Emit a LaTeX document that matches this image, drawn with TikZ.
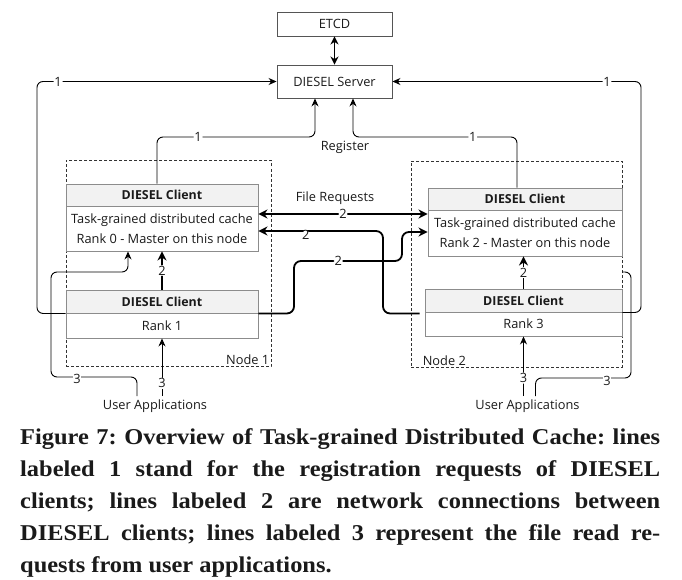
\documentclass[tikz,border=0pt]{standalone}
\usepackage{fontspec}
\setmainfont{Open Sans}
\newfontfamily\capfont[FakeStretch=1.08]{Liberation Serif}
\usetikzlibrary{arrows.meta,calc}
\definecolor{txt}{HTML}{1A1A1A}
\definecolor{hdrfill}{HTML}{F2F2F2}
\definecolor{cliborder}{HTML}{8C8C8C}
\definecolor{srvborder}{HTML}{555555}
\tikzset{
  every node/.style={text=txt,font=\fontsize{12.8}{15}\selectfont},
  srvbox/.style={draw=srvborder,line width=0.9pt,minimum width=115pt,inner sep=0pt},
  hdr/.style={draw=cliborder,line width=0.9pt,fill=hdrfill,inner sep=0pt,font=\fontsize{12.4}{15}\selectfont\bfseries},
  bod/.style={draw=cliborder,line width=0.9pt,fill=white,inner sep=0pt,align=center,font=\fontsize{12.8}{20}\selectfont},
  nodebox/.style={draw=black!80,dashed,line width=0.8pt,dash pattern=on 3pt off 2pt},
  thin/.style={draw=black,line width=0.9pt,rounded corners=6pt},
  thick/.style={draw=black,line width=1.8pt,rounded corners=7pt},
  tip/.style={-{Stealth[length=8pt,width=7pt]}},
  ttip/.style={-{Stealth[length=9pt,width=9pt]}},
  lbl/.style={fill=white,inner sep=0.8pt,font=\fontsize{12.8}{15}\selectfont},
  capline/.style={anchor=base west,inner sep=0pt,font=\capfont\bfseries\fontsize{22.6}{32}\selectfont}
}
\begin{document}
\frenchspacing
\begin{tikzpicture}[x=1pt,y=-1pt]
\useasboundingbox (0,0) rectangle (682,580);
% dashed node boxes
\node[nodebox,minimum width=205pt,minimum height=206pt,inner sep=0pt] (n1) at (168.5,263.5) {};
\node[nodebox,minimum width=211pt,minimum height=206pt,inner sep=0pt] (n2) at (516.5,264) {};
\node[anchor=south east,inner sep=2pt] (n1lbl) at (n1.south east) {Node 1};
\node[anchor=south west,inner sep=2pt] (n2lbl) at ([xshift=10pt]n2.south west) {Node 2};
% server & etcd
\node[srvbox,minimum height=24pt] (etcd) at (334.5,24) {ETCD};
\node[srvbox,minimum height=33pt] (server) at (334.5,81.5) {DIESEL Server};
% clients
\node[hdr,minimum width=192pt,minimum height=22pt] (c0h) at (162,195) {DIESEL Client};
\node[bod,minimum width=192pt,minimum height=45pt] (c0b) at (162,228.5) {Task-grained distributed cache\\Rank 0 - Master on this node};
\node[hdr,minimum width=192pt,minimum height=23pt] (c1h) at (162,301.5) {DIESEL Client};
\node[bod,minimum width=192pt,minimum height=25pt] (c1b) at (162,325.5) {Rank 1};
\node[hdr,minimum width=194pt,minimum height=22pt] (c2h) at (525,199) {DIESEL Client};
\node[bod,minimum width=194pt,minimum height=46pt] (c2b) at (525,233) {Task-grained distributed cache\\Rank 2 - Master on this node};
\node[hdr,minimum width=197pt,minimum height=23pt] (c3h) at (523.5,300.5) {DIESEL Client};
\node[bod,minimum width=197pt,minimum height=24pt] (c3b) at (523.5,324) {Rank 3};
% texts
\node (reg) at (345,147) {Register};
\node (freq) at (335,198) {File Requests};
\node (ua1) at (155,406) {User Applications};
\node (ua2) at (527.5,406) {User Applications};
% etcd <-> server
\draw[draw=black,line width=1.8pt,{Stealth[length=8pt,width=8pt]}-{Stealth[length=8pt,width=8pt]}] (etcd.south) -- (server.north);
% lines labelled 1
\draw[thin,tip] (c1h.south west) -| (37,81.5) -- node[lbl,pos=0.088]{1} (server.west);
\draw[thin,tip] (c3h.south east) -| (641,81.5) -- node[lbl,pos=0.137]{1} (server.east);
\draw[thin,tip] ([xshift=-5pt]c0h.north) |- node[lbl,pos=0.63]{1} ([xshift=-19.5pt]server.south |- 0,137) -- ([xshift=-19.5pt]server.south);
\draw[thin,tip] ([xshift=-8pt]c2h.north) |- node[lbl,pos=0.635]{1} ([xshift=18.5pt]server.south |- 0,137) -- ([xshift=18.5pt]server.south);
% lines labelled 2
\draw[thick,{Stealth[length=9pt,width=9pt]}-{Stealth[length=9pt,width=9pt]}] ([yshift=14.5pt]c0b.east) -- node[lbl]{2} ([yshift=19pt]c2b.west);
\draw[thick,ttip] ([xshift=-5pt,yshift=-1pt]c3h.south west) -| (383,231) -- node[lbl,pos=0.62,yshift=-4pt]{2} ([yshift=-2.5pt]c0b.east);
\draw[thick,ttip] (c1h.south east) -| (294,261) -- node[lbl,pos=0.41]{2} (402,261) |- ([yshift=1pt]c2b.west);
\draw[thick,ttip] (c1h.north) -- node[lbl]{2} (c0b.south);
\draw[thick,ttip] (c3h.north) -- node[lbl]{2} (c3h.north |- c2b.south);
% lines labelled 3
\draw[thin,tip] (c1b.south |- ua1.north) -- node[lbl,pos=0.22]{3} (c1b.south);
\draw[thin,tip] ([xshift=-18pt]ua1.north) |- (51,377) |- (128,272) -- ([xshift=-34pt]c0b.south);
\node[lbl] (l3a) at (77,379) {3};
\draw[thin,tip] (c3b.south |- ua2.north) -- node[lbl,pos=0.3]{3} (c3b.south);
\coordinate (r3end) at (622,272);
\draw[thin] ([xshift=8pt]ua2.north) |- (631,378) |- (r3end);
\node[lbl] (l3b) at (607,381) {3};
% caption
\node[capline] (cap1) at (20,444) {\makebox[640pt][s]{Figure 7: Overview of Task-grained Distributed Cache: lines}};
\node[capline] (cap2) at (20,476) {\makebox[640pt][s]{labeled 1 stand for the registration requests of DIESEL}};
\node[capline] (cap3) at (20,508) {\makebox[640pt][s]{clients; lines labeled 2 are network connections between}};
\node[capline] (cap4) at (20,540) {\makebox[640pt][s]{DIESEL clients; lines labeled 3 represent the file read re-}};
\node[capline] (cap5) at (20,572) {quests from user applications.};
\end{tikzpicture}
\end{document}
